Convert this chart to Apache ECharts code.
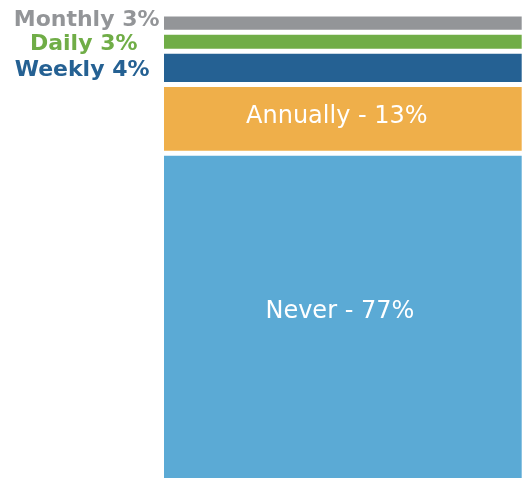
<!DOCTYPE html>
<html>
<head>
<meta charset="utf-8">
<script src="https://cdn.jsdelivr.net/npm/echarts@6/dist/echarts.min.js"></script>
<style>
  html, body { margin: 0; padding: 0; background: #fff; }
  #chart { width: 527px; height: 478px; }
</style>
</head>
<body>
<div id="chart"></div>
<script>
// segments from top to bottom (axis is inverted)
const names = ['Monthly', 'Daily', 'Weekly', 'Annually', 'Never']
// bar heights (share of the column)
const heights = [3.9, 4.1, 7.1, 14.7, 70.2]
// percentages printed on the labels
const shares = [3, 3, 4, 13, 77]
const colors = ['#939598', '#70ad47', '#256193', '#efaf4a', '#5baad5']

const chart = echarts.init(document.getElementById('chart'))

// label styles: the two big ones sit inside, the thin ones go to the left
const labelFor = (i) => {
  const base = { show: true, fontFamily: 'DejaVu Sans' }
  if (i === 4) {
    return { ...base, position: 'inside', offset: [-3, -5], color: '#fff', fontSize: 24,
      formatter: () => `${names[i]} - ${shares[i]}%` }
  }
  if (i === 3) {
    return { ...base, position: 'inside', offset: [-6, -2], color: '#fff', fontSize: 24,
      formatter: () => `${names[i]} - ${shares[i]}%` }
  }
  // distances / vertical nudges picked to match the reference
  const dist = [2, 24, 12]
  const dy = [-3, 2, 2]
  return { ...base, position: 'left', distance: dist[i], offset: [0, dy[i]],
    color: colors[i], fontSize: 22, fontWeight: 'bold',
    formatter: () => `${names[i]} ${shares[i]}%` }
}

const option = {
  animation: false,
  grid: { top: 14, bottom: 0, left: 161.5, right: 2.8 },
  xAxis: { type: 'category', data: ['all'], show: false },
  // max a bit under 100 so the Never block runs off the bottom edge
  yAxis: { type: 'value', inverse: true, min: 0, max: 99.36, show: false },
  series: names.map((n, i) => ({
    name: n,
    type: 'bar',
    stack: 'total',
    clip: false,
    barWidth: '100%',
    data: [heights[i]],
    itemStyle: { color: colors[i], borderColor: '#fff', borderWidth: 2.5 },
    label: labelFor(i)
  }))
}

chart.setOption(option)
</script>
</body>
</html>
